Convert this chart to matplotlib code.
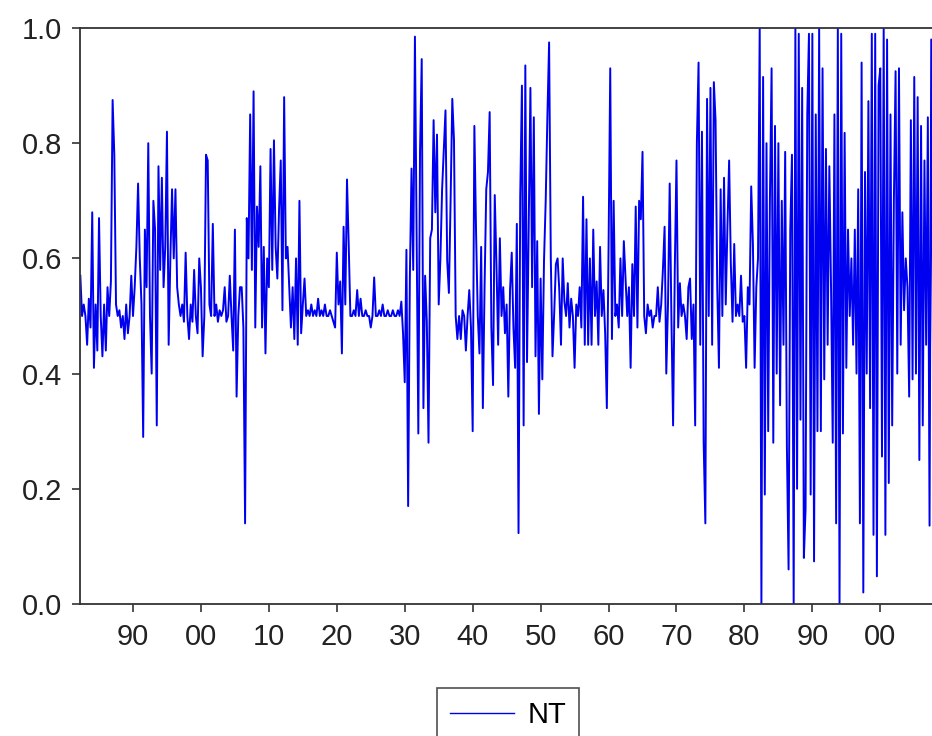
import numpy as np
import matplotlib
matplotlib.use('Agg')
import matplotlib.pyplot as plt

plt.rcParams['font.family'] = ['Liberation Sans', 'DejaVu Sans']

# quarterly NT values, first value = 1882 Q2
nt_1882_1899 = [
    0.57, 0.50, 0.52,
    0.50, 0.45, 0.53, 0.48,
    0.68, 0.41, 0.52, 0.44,
    0.67, 0.50, 0.43, 0.52,
    0.44, 0.55, 0.50, 0.56,
    0.875, 0.78, 0.52, 0.50,
    0.51, 0.48, 0.50, 0.46,
    0.52, 0.47, 0.50, 0.57,
    0.50, 0.55, 0.62, 0.73,
    0.60, 0.52, 0.29, 0.65,
    0.55, 0.80, 0.50, 0.40,
    0.70, 0.65, 0.31, 0.76,
    0.58, 0.74, 0.55, 0.62,
    0.82, 0.45, 0.60, 0.72,
    0.60, 0.72, 0.55, 0.52,
    0.50, 0.52, 0.49, 0.61,
    0.50, 0.46, 0.52, 0.49,
    0.58, 0.50, 0.47, 0.60,
]
nt_1900_1919 = [
    0.55, 0.43, 0.50, 0.78,
    0.77, 0.52, 0.50, 0.66,
    0.50, 0.52, 0.49, 0.51,
    0.50, 0.51, 0.55, 0.49,
    0.50, 0.57, 0.50, 0.44,
    0.65, 0.36, 0.50, 0.55,
    0.55, 0.48, 0.14, 0.67,
    0.60, 0.85, 0.58, 0.89,
    0.48, 0.69, 0.62, 0.76,
    0.48, 0.62, 0.435, 0.60,
    0.55, 0.79, 0.58, 0.805,
    0.62, 0.565, 0.685, 0.77,
    0.51, 0.88, 0.60, 0.62,
    0.55, 0.48, 0.55, 0.46,
    0.60, 0.45, 0.70, 0.47,
    0.52, 0.565, 0.50, 0.51,
    0.50, 0.52, 0.50, 0.51,
    0.50, 0.53, 0.50, 0.51,
    0.50, 0.52, 0.50, 0.50,
    0.51, 0.50, 0.49, 0.48,
]
nt_1920_1939 = [
    0.61, 0.52, 0.56, 0.435,
    0.655, 0.52, 0.737, 0.625,
    0.50, 0.50, 0.51, 0.50,
    0.545, 0.50, 0.53, 0.50,
    0.50, 0.51, 0.50, 0.50,
    0.48, 0.50, 0.567, 0.50,
    0.50, 0.51, 0.50, 0.52,
    0.50, 0.50, 0.51, 0.50,
    0.50, 0.51, 0.50, 0.50,
    0.51, 0.50, 0.525, 0.47,
    0.385, 0.615, 0.17, 0.565,
    0.756, 0.58, 0.985, 0.65,
    0.296, 0.785, 0.946, 0.34,
    0.57, 0.49, 0.28, 0.635,
    0.65, 0.84, 0.68, 0.815,
    0.52, 0.60, 0.72, 0.79,
    0.857, 0.596, 0.54, 0.70,
    0.877, 0.805, 0.50, 0.46,
    0.50, 0.46, 0.51, 0.50,
    0.44, 0.50, 0.545, 0.48,
]
nt_1940_1959 = [
    0.30, 0.83, 0.645, 0.50,
    0.435, 0.62, 0.34, 0.55,
    0.72, 0.75, 0.854, 0.48,
    0.38, 0.71, 0.59, 0.45,
    0.635, 0.50, 0.55, 0.47,
    0.52, 0.36, 0.545, 0.61,
    0.48, 0.41, 0.66, 0.123,
    0.707, 0.90, 0.31, 0.935,
    0.42, 0.66, 0.896, 0.55,
    0.845, 0.43, 0.63, 0.33,
    0.565, 0.39, 0.596, 0.70,
    0.847, 0.975, 0.60, 0.43,
    0.505, 0.59, 0.60, 0.545,
    0.45, 0.60, 0.525, 0.50,
    0.557, 0.48, 0.53, 0.50,
    0.41, 0.52, 0.50, 0.55,
    0.48, 0.707, 0.45, 0.668,
    0.45, 0.60, 0.45, 0.65,
    0.50, 0.56, 0.45, 0.62,
    0.50, 0.545, 0.47, 0.34,
]
nt_1960_1981 = [
    0.615, 0.93, 0.46, 0.70,
    0.50, 0.52, 0.48, 0.60,
    0.50, 0.63, 0.565, 0.50,
    0.55, 0.41, 0.59, 0.50,
    0.69, 0.48, 0.70, 0.668,
    0.785, 0.50, 0.47, 0.52,
    0.50, 0.51, 0.48, 0.50,
    0.50, 0.55, 0.49, 0.52,
    0.58, 0.655, 0.40, 0.52,
    0.73, 0.50, 0.31, 0.58,
    0.77, 0.48, 0.557, 0.50,
    0.52, 0.50, 0.46, 0.55,
    0.565, 0.46, 0.52, 0.31,
    0.80, 0.94, 0.45, 0.82,
    0.28, 0.14, 0.877, 0.50,
    0.896, 0.45, 0.906, 0.84,
    0.55, 0.41, 0.72, 0.50,
    0.74, 0.52, 0.655, 0.77,
    0.59, 0.49, 0.625, 0.50,
    0.52, 0.50, 0.57, 0.49,
    0.50, 0.41, 0.55, 0.52,
    0.725, 0.625, 0.41, 0.55,
]
nt_1982_2007 = [
    0.60, 1.0, 0.0, 0.915,
    0.19, 0.80, 0.30, 0.70,
    0.93, 0.28, 0.83, 0.40,
    0.80, 0.345, 0.70, 0.45,
    0.785, 0.275, 0.06, 0.65,
    0.78, 0.0, 1.0, 0.20,
    0.99, 0.32, 0.896, 0.08,
    0.165, 0.85, 0.99, 0.19,
    0.99, 0.074, 0.85, 0.30,
    1.0, 0.30, 0.93, 0.39,
    0.79, 0.45, 0.76, 0.55,
    0.28, 0.85, 0.14, 1.0,
    0.0, 0.99, 0.296, 0.818,
    0.41, 0.65, 0.50, 0.60,
    0.45, 0.65, 0.40, 0.72,
    0.14, 0.94, 0.02, 0.75,
    0.40, 0.873, 0.34, 0.99,
    0.12, 0.99, 0.048, 0.90,
    0.93, 0.256, 1.0, 0.12,
    0.98, 0.21, 0.85, 0.31,
    0.70, 0.925, 0.40, 0.93,
    0.45, 0.68, 0.51, 0.60,
    0.55, 0.36, 0.84, 0.39,
    0.915, 0.40, 0.88, 0.25,
    0.83, 0.31, 0.77, 0.45,
    0.845, 0.136, 0.98, 0.45,
]

nt = np.concatenate([nt_1882_1899, nt_1900_1919, nt_1920_1939,
                     nt_1940_1959, nt_1960_1981, nt_1982_2007])
start_year = 1882.25
years = start_year + 0.25 * np.arange(len(nt))

tick_years = list(range(1890, 2001, 10))
tick_labels = [f'{y % 100:02d}' for y in tick_years]

fig = plt.figure(figsize=(9.32, 7.36), dpi=100)
ax = fig.add_axes([80 / 932, 1 - 604 / 736, 856 / 932, 576 / 736])
ax.plot(years, nt, color='#0000f0', lw=1.4, label='NT')

ax.set_xlim(1882.2, 2008.2)
ax.set_ylim(0, 1)
ax.set_xticks(tick_years)
ax.set_xticklabels(tick_labels)
ax.set_yticks(np.arange(0, 1.01, 0.2))
ax.set_yticklabels([f'{v:.1f}' for v in np.arange(0, 1.01, 0.2)])

ax.spines['right'].set_visible(False)
for s in ['left', 'bottom', 'top']:
    ax.spines[s].set_color('#333333')
    ax.spines[s].set_linewidth(1.3)
ax.tick_params(axis='both', direction='out', length=6, width=1.2,
               colors='#333333', labelsize=21, labelcolor='#222222')
ax.tick_params(axis='x', pad=8)
ax.tick_params(axis='y', pad=7)

leg = fig.legend(loc='upper center', bbox_to_anchor=(508 / 932, 1 - 688 / 736),
                 fontsize=21, frameon=True, fancybox=False, handlelength=2.2,
                 handletextpad=0.45, borderpad=0.45, borderaxespad=0)
leg.get_frame().set_edgecolor('#222222')
leg.get_frame().set_linewidth(1.2)
leg.get_lines()[0].set_linewidth(1.0)

fig.savefig('out.png', dpi=100)
